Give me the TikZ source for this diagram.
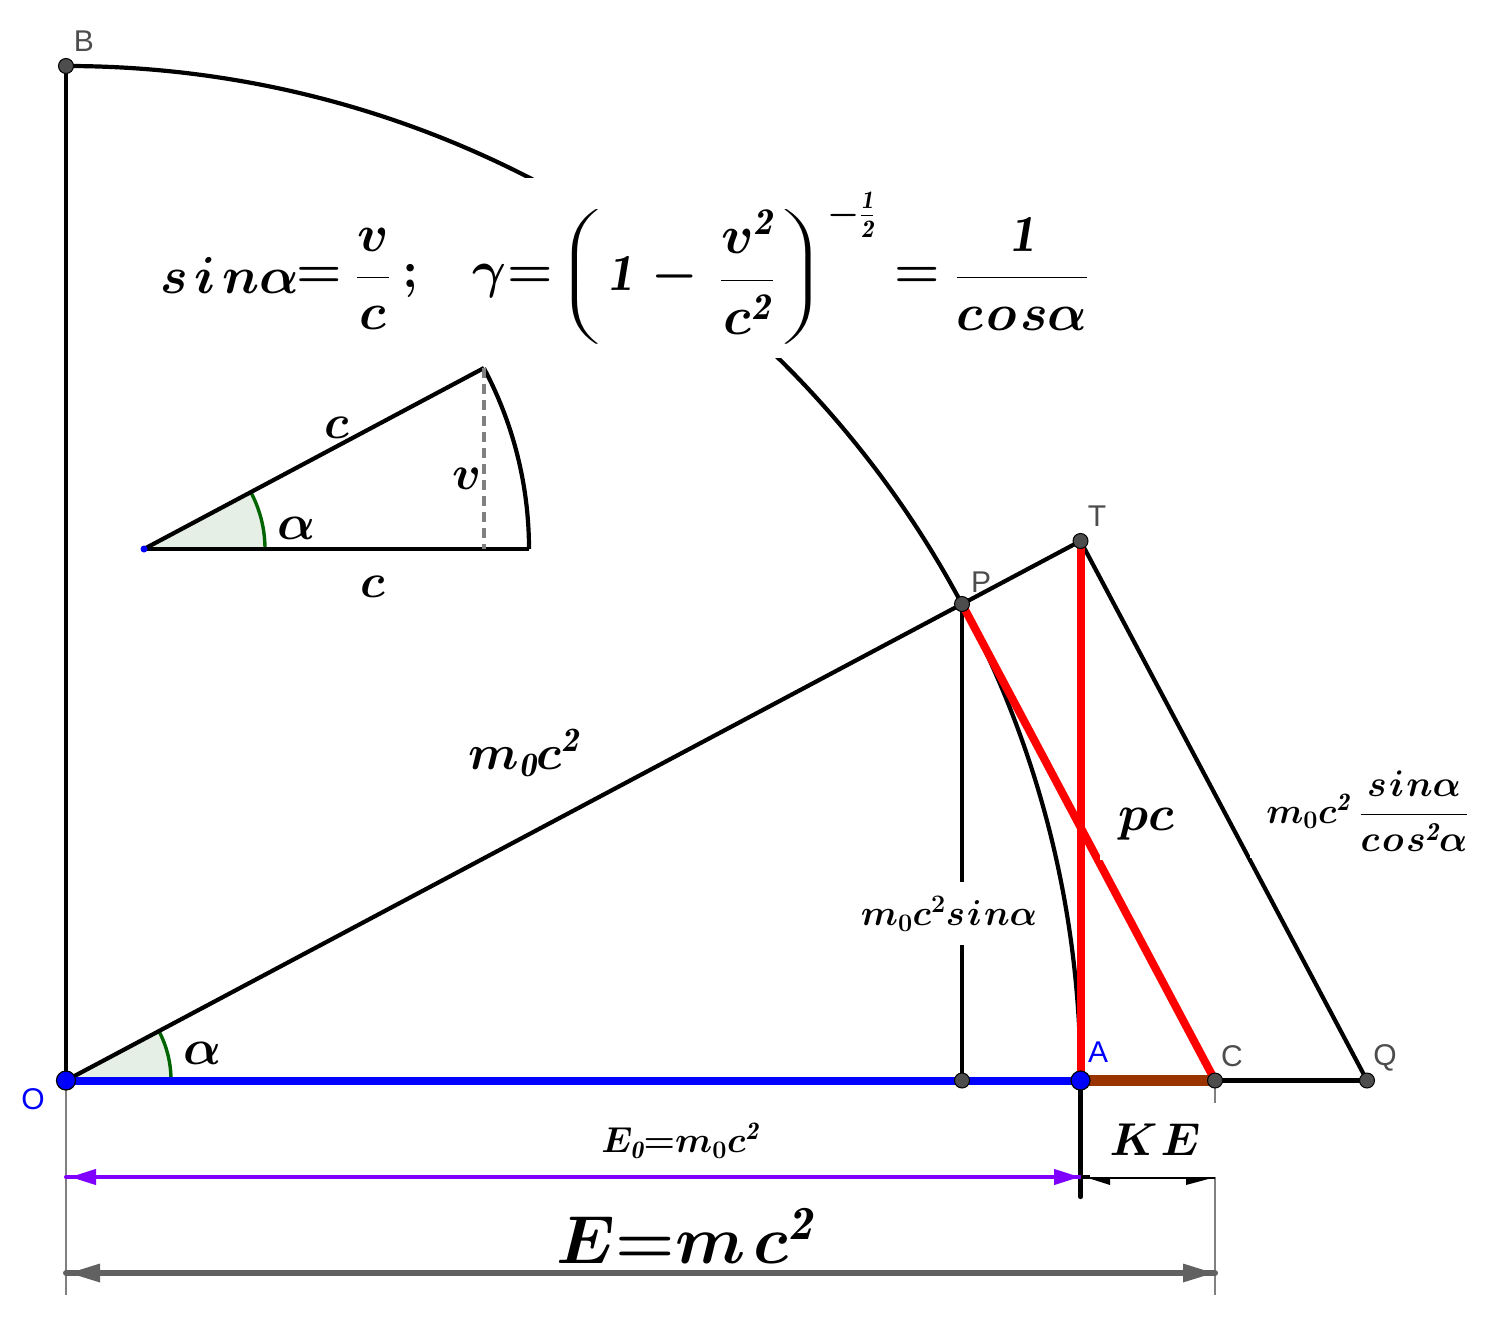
\documentclass[tikz,border=0pt]{standalone}
\usepackage{fix-cm}
\usepackage{graphicx}
\usepackage{fontspec}
\usepackage{amsmath}
\setsansfont{Liberation Sans}
\usetikzlibrary{arrows.meta}
\definecolor{ptgray}{HTML}{4D4D4D}
\definecolor{purp}{HTML}{7F00FF}
\definecolor{brownln}{HTML}{993300}
\definecolor{darkgr}{HTML}{006400}
\definecolor{lightgr}{HTML}{E5EFE5}
\definecolor{arrgray}{HTML}{616161}
\newcommand{\mfs}[1]{\fontsize{#1}{#1}\selectfont\boldmath}
\tikzset{
 x=1pt,y=-1pt,
 blk/.style={line width=4.2pt,black},
 ptn/.style={circle,draw=black,line width=1pt,fill=ptgray,inner sep=0pt,minimum size=15pt},
 ptb/.style={circle,draw=black,line width=1.2pt,fill=blue,inner sep=0pt,minimum size=19pt},
 lab/.style={font=\sffamily\fontsize{30}{30}\selectfont,text=ptgray,inner sep=0pt},
 labb/.style={lab,text=blue},
 mth/.style={inner sep=0pt},
 guide/.style={line width=2.7pt,color=gray},
 mask/.style={fill=white,draw=none},
}
\begin{document}
\begin{tikzpicture}
\useasboundingbox (0,0) rectangle (1495,1337);
\coordinate (O) at (66,1080.5);
\coordinate (B) at (66,66);
\coordinate (A) at (1080.5,1080.5);
\coordinate (P) at (962,604);
\coordinate (T) at (1080.5,541);
\coordinate (C) at (1215,1080.5);
\coordinate (Q) at (1367,1080.5);
\coordinate (F) at (962,1080.5);
\coordinate (I) at (144,549);
\coordinate (IE) at (529,549);
\coordinate (IT) at (484,368);
\coordinate (IF) at (484,549);
\coordinate (Alow) at (1080.5,1197);
\coordinate (Og) at (66,1295);
\coordinate (Cg) at (1215,1295);
\coordinate (Op) at (66,1177);
\coordinate (Ap) at (1080,1177);
\coordinate (Ok) at (66,1273);
\coordinate (Ck) at (1215,1273);
\coordinate (Ka) at (1086,1178);
\coordinate (Kc) at (1215,1178);
% angle sectors
\fill[lightgr] (O) -- (171,1080) arc[start angle=0,end angle=-28,radius=105] -- cycle;
\draw[darkgr,line width=3.4pt] (171,1080) arc[start angle=0,end angle=-28,radius=105];
\fill[lightgr] (I) -- (265,549) arc[start angle=0,end angle=-28,radius=121] -- cycle;
\draw[darkgr,line width=3.4pt] (265,549) arc[start angle=0,end angle=-28,radius=121];
% guides
\draw[guide] (O) -- (Og);
\draw[guide] (C) -- (Cg);
% main arc
\draw[blk] (B) arc[start angle=-90,end angle=0,radius=1014.5];
\draw[blk] (O) -- (B);
\draw[blk] (O) -- (T);
\draw[blk] (T) -- (Q);
\draw[blk] (P) -- (F);
\draw[blk] (C) -- (Q);
\draw[blk,line cap=round] (A) -- (Alow);
% red and coloured
\draw[red,line width=8pt] (A) -- (T);
\draw[red,line width=8pt] (P) -- (C);
\draw[blue,line width=8pt] (O) -- (A);
\draw[brownln,line width=10.5pt] (A) -- (C);
% dimension arrows
\draw[purp,line width=4pt,line cap=round] (Op) -- (Ap);
\draw[purp,line width=4pt,{Triangle[length=26pt,width=15pt]}-{Triangle[length=26pt,width=15pt]},shorten <=4pt] (Op) -- (Ap);
\draw[arrgray,line width=6pt,line cap=round] (Ok) -- (Ck);
\draw[arrgray,line width=6pt,{Triangle[length=32pt,width=17pt]}-{Triangle[length=32pt,width=17pt]},shorten <=2pt] (Ok) -- (Ck);
% inset
\draw[blk] (I) -- (IE);
\draw[blk] (I) -- (IT);
\draw[blk] (IE) arc[start angle=0,end angle=-28,radius=385];
\draw[gray,line width=4pt,dash pattern=on 10pt off 6pt] (IT) -- (IF);
\fill[blue] (I) circle[radius=3.5];
% white label backgrounds
\fill[mask] (130,178) rectangle (1110,358);
\fill[mask] (860,882) rectangle (1040,945);
\fill[mask] (1250,770) rectangle (1475,858);
\fill[mask] (1100,790) rectangle (1180,860);
\fill[mask] (1088,1103) rectangle (1215.6,1177);
% KE arrow
\draw[black,line width=1.2pt] (Ka) -- (Kc);
\draw[black,line width=3.6pt] (A|-Ap) -- (1090,1177);
\fill[black] (1088,1178) -- (1110,1178) -- (1110,1185) -- cycle;
\fill[black] (1186,1178) -- (1212,1178) -- (1186,1185) -- cycle;
% points
\node[ptn] (nB) at (B) {};
\node[ptn] (nP) at (P) {};
\node[ptn] (nT) at (T) {};
\node[ptn] (nF) at (F) {};
\node[ptn] (nC) at (C) {};
\node[ptn] (nQ) at (Q) {};
\node[ptb] (nO) at (O) {};
\node[ptb] (nA) at (A) {};
% point labels
\node[lab] (lB) at (84,41) {B};
\node[lab] (lP) at (981,582) {P};
\node[lab] (lT) at (1097,516) {T};
\node[lab] (lC) at (1232,1056) {C};
\node[lab] (lQ) at (1385,1058) {Q};
\node[labb] (lA) at (1098,1052) {A};
\node[labb] (lO) at (33,1099) {O};
% math labels
\node[mth,font=\mfs{48}] (mc1) at (337,428) {$c$};
\node[mth,font=\mfs{48}] (mv) at (467,479) {$v$};
\node[mth,font=\mfs{50}] (ma1) at (297,528) {$\alpha$};
\node[mth,font=\mfs{48}] (mc2) at (373,587) {$c$};
\node[mth,font=\mfs{50}] (ma2) at (203,1053) {$\alpha$};
\node[mth,font=\mfs{49}] (mE) at (524,753) {$m_{\mathit{0}}c^{\mathit{2}}$};
\node[mth,font=\mfs{50}] (mpc) at (1146,824) {$pc$};
\node[mth,font=\mfs{36}] (mE0) at (680,1141) {$E_{\mathit{0}}{=}m_{0}c^{\mathit{2}}$};
\node[mth,font=\mfs{46}] (mKE) at (1155,1140) {$K\mkern1mu E$};
\node[mth,font=\mfs{68}] (mEE) at (685,1236) {$E{=}m\mkern2mu c^{\mathit{2}}$};
\node[mth,font=\mfs{36}] (mS) at (949,914) {$m_0c^2 s\mkern1mu i\mkern1mu n\alpha$};
\node[mth,font=\mfs{36}] (mm) at (1308,811) {$m_0c^{\mathit{2}}$};
\node[mth,font=\mfs{37}] (mTQ) at (1414,811) {$\dfrac{s\mkern1mu i\mkern1mu n\alpha}{c\mkern1mu o\mkern1mu s^{\mathit{2}}\alpha}$};
% formula
\node[mth,font=\mfs{52},anchor=west] (f1) at (160,275) {$s\mkern2mu i\mkern2mu n\alpha$};
\node[mth,font=\mfs{52}] (f1e) at (319,277) {$=$};
\node[mth,font=\mfs{52}] (f1f) at (373,279) {$\dfrac{v}{c}$};
\node[mth,font=\mfs{52}] (f1s) at (411,281) {$;$};
\node[mth,font=\mfs{52}] (f2g) at (489,281) {$\gamma$};
\node[mth,font=\mfs{52}] (f2e) at (530,277) {$=$};
\node[mth,font=\mfs{42}] (f2l) at (579,277) {\scalebox{1.9}[1]{$\Bigg($}};
\node[mth,font=\mfs{52}] (f21) at (620,273) {$\mathit{1}$};
\node[mth,font=\mfs{52}] (f2m) at (675,277) {$-$};
\node[mth,font=\mfs{54}] (f2f) at (747,272) {$\dfrac{v^{\mathit{2}}}{c^{\mathit{2}}}$};
\node[mth,font=\mfs{42}] (f2r) at (804,277) {\scalebox{1.9}[1]{$\Bigg)$}};
\node[mth,font=\mfs{36}] (f3) at (851,215) {$-\frac{\mathit{1}}{\mathit{2}}$};
\node[mth,font=\mfs{52}] (f4e) at (917,277) {$=$};
\node[mth,font=\mfs{52}] (f4) at (1022,274) {$\dfrac{\mathit{1}}{c\mkern1mu o\mkern1mu s\alpha}$};
\end{tikzpicture}
\end{document}
